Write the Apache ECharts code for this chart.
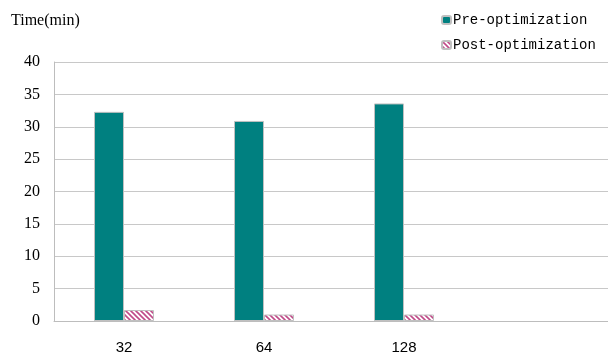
<!DOCTYPE html>
<html>
<head>
<meta charset="utf-8">
<script src="https://cdn.jsdelivr.net/npm/echarts@6/dist/echarts.min.js"></script>
<style>
html,body{margin:0;padding:0;background:#fff;overflow:hidden;}
/* the plot area runs a few pixels past the right edge of the window */
#chart{width:614px;height:358px;}
</style>
</head>
<body>
<div id="chart"></div>
<script>
// Thread counts on the x axis (the last slot is left empty)
const categories = ['32', '64', '128', ''];
const preOptimization = [32.3, 30.9, 33.6, null];
const postOptimization = [1.7, 1.0, 1.0, null];
const yTicks = { min: 0, max: 40, step: 5 };

// Diagonal hatch fill for the post-optimization bars
function hatch() {
  const c = document.createElement('canvas');
  c.width = 5; c.height = 5;
  const g = c.getContext('2d');
  g.fillStyle = '#ffffff';
  g.fillRect(0, 0, 5, 5);
  g.strokeStyle = '#c04a88';
  g.lineWidth = 1.6;
  g.beginPath();
  g.moveTo(-1, -1); g.lineTo(6, 6);
  g.moveTo(-1, 4); g.lineTo(1, 6);
  g.moveTo(4, -1); g.lineTo(6, 1);
  g.stroke();
  return c;
}

const chart = echarts.init(document.getElementById('chart'));
chart.setOption({
  animation: false,
  title: {
    text: 'Time(min)',
    left: 6, top: 8,
    textStyle: { fontFamily: 'Liberation Serif', fontSize: 16, fontWeight: 'normal', color: '#000' }
  },
  legend: {
    orient: 'vertical',
    left: 436, top: 8,
    itemWidth: 9, itemHeight: 8,
    itemGap: 11,
    textStyle: { fontFamily: 'Liberation Mono', fontSize: 14, color: '#000', padding: [0, 0, 0, -3] },
    data: ['Pre-optimization', 'Post-optimization']
  },
  grid: { left: 54, top: 62, right: 0, bottom: 37, containLabel: false },
  xAxis: {
    type: 'category',
    data: categories,
    boundaryGap: true,
    axisLine: { lineStyle: { color: '#bdbdbd', width: 1 } },
    axisTick: { inside: true, length: 4, lineStyle: { color: '#bdbdbd' } },
    axisLabel: { margin: 19, fontFamily: 'Liberation Sans', fontSize: 15, color: '#000' }
  },
  yAxis: {
    type: 'value',
    min: yTicks.min, max: yTicks.max, interval: yTicks.step,
    axisLine: { show: true, lineStyle: { color: '#bdbdbd', width: 1 } },
    axisTick: { show: false },
    splitLine: { lineStyle: { color: '#c8c8c8', width: 1 } },
    axisLabel: { margin: 14, fontFamily: 'Liberation Serif', fontSize: 16, color: '#000' }
  },
  series: [
    {
      name: 'Pre-optimization',
      type: 'bar',
      data: preOptimization,
      barWidth: 30,
      barGap: '0%',
      itemStyle: { color: '#008080', borderColor: '#c0c0c0', borderWidth: 1 }
    },
    {
      name: 'Post-optimization',
      type: 'bar',
      data: postOptimization,
      barWidth: 30,
      itemStyle: { color: { image: hatch(), repeat: 'repeat' }, borderColor: '#c0c0c0', borderWidth: 1 }
    }
  ]
});
</script>
</body>
</html>
